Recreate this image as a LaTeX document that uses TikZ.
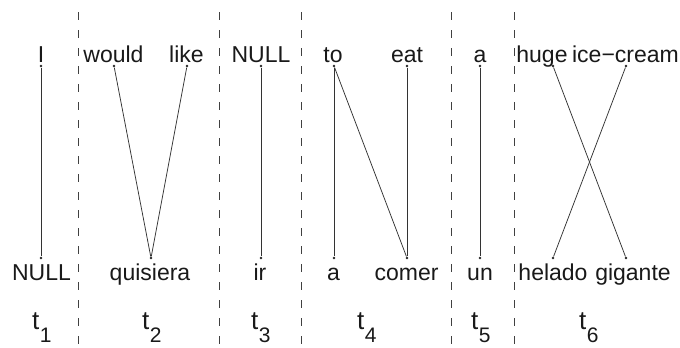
\documentclass[tikz,border=0pt]{standalone}
\usepackage{fontspec}
\setmainfont{Liberation Sans}
\begin{document}
\begin{tikzpicture}[x=1pt,y=1pt,
  word/.style={anchor=base,inner sep=0pt,text=black!90,font=\fontsize{23}{27}\selectfont},
  tlab/.style={anchor=base west,inner sep=0pt,text=black!90,font=\fontsize{26}{30}\selectfont},
  sub/.style={anchor=base west,inner sep=0pt,text=black!90,font=\fontsize{21}{25}\selectfont},
  dotpt/.style={circle,fill=black!85,inner sep=0pt,minimum size=2.8pt},
  link/.style={draw=black!80,line width=0.75pt},
  sep/.style={draw=black!75,line width=0.8pt,dash pattern=on 8pt off 10pt}]
\useasboundingbox (0,0) rectangle (680,-348);
% separators
\foreach \x/\n in {78/s1,219/s2,301/s3,451/s4,514/s5}{
  \coordinate (\n a) at (\x,-12);
  \coordinate (\n b) at (\x,-348);
  \draw[sep] (\n a) -- (\n b);
}
% top words
\node[word] (wI) at (41,-62) {I};
\node[word] (wwould) at (113.5,-62) {would};
\node[word] (wlike) at (186.5,-62) {like};
\node[word] (wNULL) at (261,-62) {NULL};
\node[word] (wto) at (333,-62) {to};
\node[word] (weat) at (407,-62) {eat};
\node[word] (wa) at (480,-62) {a};
\node[word] (whuge) at (542,-62) {huge};
\node[word] (wice) at (625.5,-62) {ice−cream};
% bottom words
\node[word] (bNULL) at (41.5,-280) {NULL};
\node[word] (bquisiera) at (150,-280) {quisiera};
\node[word] (bir) at (260,-280) {ir};
\node[word] (ba) at (333.5,-280) {a};
\node[word] (bcomer) at (406.5,-280) {comer};
\node[word] (bun) at (480,-280) {un};
\node[word] (bhelado) at (553,-280) {helado};
\node[word] (bgigante) at (633,-280) {gigante};
% dots
\node[dotpt] (dI) at (41,-66) {};
\node[dotpt] (dwould) at (114,-66) {};
\node[dotpt] (dlike) at (187,-66) {};
\node[dotpt] (dNULL) at (261,-66) {};
\node[dotpt] (dto) at (334,-66) {};
\node[dotpt] (deat) at (407,-66) {};
\node[dotpt] (da) at (480,-66) {};
\node[dotpt] (dhuge) at (553,-66) {};
\node[dotpt] (dice) at (626,-66) {};
\node[dotpt] (ebNULL) at (41,-258) {};
\node[dotpt] (ebquisiera) at (151,-258) {};
\node[dotpt] (ebir) at (261,-258) {};
\node[dotpt] (eba) at (334,-258) {};
\node[dotpt] (ebcomer) at (407,-258) {};
\node[dotpt] (ebun) at (480,-258) {};
\node[dotpt] (ebhelado) at (553,-258) {};
\node[dotpt] (ebgigante) at (626,-258) {};
% links
\draw[link] (dI) -- (ebNULL);
\draw[link] (dwould) -- (ebquisiera);
\draw[link] (dlike) -- (ebquisiera);
\draw[link] (dNULL) -- (ebir);
\draw[link] (dto) -- (eba);
\draw[link] (dto) -- (ebcomer);
\draw[link] (deat) -- (ebcomer);
\draw[link] (da) -- (ebun);
\draw[link] (dhuge) -- (ebgigante);
\draw[link] (dice) -- (ebhelado);
% t labels
\foreach \x/\k in {32/1,142/2,251/3,357/4,471/5,579/6}{
  \node[tlab] (t\k) at (\x,-329) {t};
  \node[sub] (ts\k) at ([xshift=0pt]t\k.base east) [yshift=-13pt] {\k};
}
\end{tikzpicture}
\end{document}
